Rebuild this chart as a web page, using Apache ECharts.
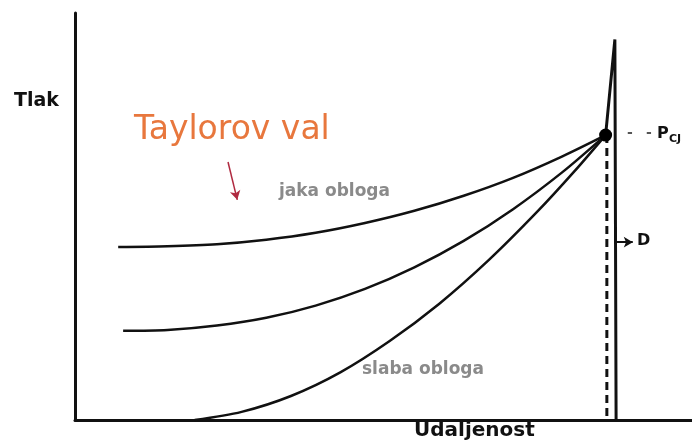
<!DOCTYPE html>
<html>
<head>
<meta charset="utf-8">
<script src="https://cdn.jsdelivr.net/npm/echarts@6/dist/echarts.min.js"></script>
<style>
  html, body { margin: 0; padding: 0; background: #fff; }
  #container { width: 692px; height: 443px; }
</style>
</head>
<body>
<div id="container"></div>
<script>
var dom = document.getElementById('container');
var myChart = echarts.init(dom, null, { renderer: 'canvas' });

// udaljenost (x) / tlak (y), proizvoljne jedinice 0..100
var jakaObloga = [[7, 42.5], [15, 42.7], [23, 43.2], [31, 44.3], [39, 46.0], [47, 48.4], [55, 51.4], [63, 55.1], [71, 59.5], [79, 64.8], [86, 70]];
var srednja = [[7.8, 21.9], [15, 22.1], [23, 23.2], [31, 25.1], [39, 28.1], [47, 32.2], [55, 37.5], [63, 44.0], [71, 51.8], [79, 60.9], [86, 70]];
var slabaObloga = [[19.4, 0], [27, 2.0], [35, 5.9], [43, 11.7], [51, 19.4], [59, 28.5], [67, 39.2], [75, 51.3], [81, 61.2], [86, 70]];
// CJ tocka i detonacijski front
var cjTocka = [[86, 70]];
var front = [[86, 70], [87.5, 93.5], [87.7, 0]];
var cjLinija = [[86.2, 70], [86.2, 0]];
// strelice
var taylorStrelica = [[24.8, 63.4], [26.3, 54.1]];
var dStrelica = [[87.7, 43.7], [90.4, 43.7]];

var crno = '#111';
var sivo = '#8a8a8a';
var font = 'DejaVu Sans';

function krivulja(name, data) {
    return {
        name: name,
        type: 'line',
        data: data,
        smooth: 0.3,
        showSymbol: false,
        lineStyle: { color: crno, width: 2.5 },
        z: 3
    };
}

function strelica(pts, color, width) {
    return {
        type: 'line',
        data: [],
        markLine: {
            silent: true,
            symbol: ['none', 'arrow'],
            symbolSize: [8, 9],
            label: { show: false },
            lineStyle: { color: color, width: width, type: 'solid' },
            data: [[{ coord: pts[0] }, { coord: pts[1] }]]
        }
    };
}

function tekst(txt, x, y, size, color, bold) {
    return {
        type: 'text', left: x, top: y,
        style: { text: txt, font: (bold ? 'bold ' : '') + size + 'px "' + font + '"', fill: color }
    };
}

var option = {
    animation: false,
    backgroundColor: '#fff',
    grid: { left: 75, right: 0, top: 13, bottom: 23 },
    xAxis: {
        type: 'value', min: 0, max: 100,
        axisLine: { lineStyle: { color: crno, width: 3 } },
        axisTick: { show: false },
        axisLabel: { show: false },
        splitLine: { show: false }
    },
    yAxis: {
        type: 'value', min: 0, max: 100,
        axisLine: { show: true, lineStyle: { color: crno, width: 3 } },
        axisTick: { show: false },
        axisLabel: { show: false },
        splitLine: { show: false }
    },
    series: [
        krivulja('jaka obloga', jakaObloga),
        krivulja('srednja', srednja),
        krivulja('slaba obloga', slabaObloga),
        {
            name: 'front', type: 'line', data: front,
            showSymbol: false,
            lineStyle: { color: crno, width: 3 }, z: 4
        },
        {
            name: 'CJ', type: 'line', data: cjLinija,
            showSymbol: false,
            lineStyle: { color: crno, width: 3, type: [8, 5] }, z: 4
        },
        {
            name: 'tocka', type: 'scatter', data: cjTocka,
            symbolSize: 13,
            itemStyle: { color: '#000', opacity: 1 }, z: 5
        },
        strelica(taylorStrelica, '#b02a40', 1.5),
        strelica(dStrelica, crno, 2)
    ],
    graphic: [
        tekst('Tlak', 14, 92, 19, crno, true),
        tekst('Taylorov val', 134, 114, 33, '#e8773d', false),
        tekst('jaka obloga', 279, 183, 17, sivo, true),
        tekst('slaba obloga', 362, 361, 17, sivo, true),
        tekst('Udaljenost', 414, 421, 20, crno, true),
        tekst('D', 637, 233, 16, crno, true),
        tekst('-', 627, 126, 14, '#555', true),
        tekst('-', 646, 126, 14, '#555', true),
        tekst('P', 657, 126, 16, crno, true),
        tekst('CJ', 669, 134, 11, crno, true)
    ]
};

myChart.setOption(option);
</script>
</body>
</html>
